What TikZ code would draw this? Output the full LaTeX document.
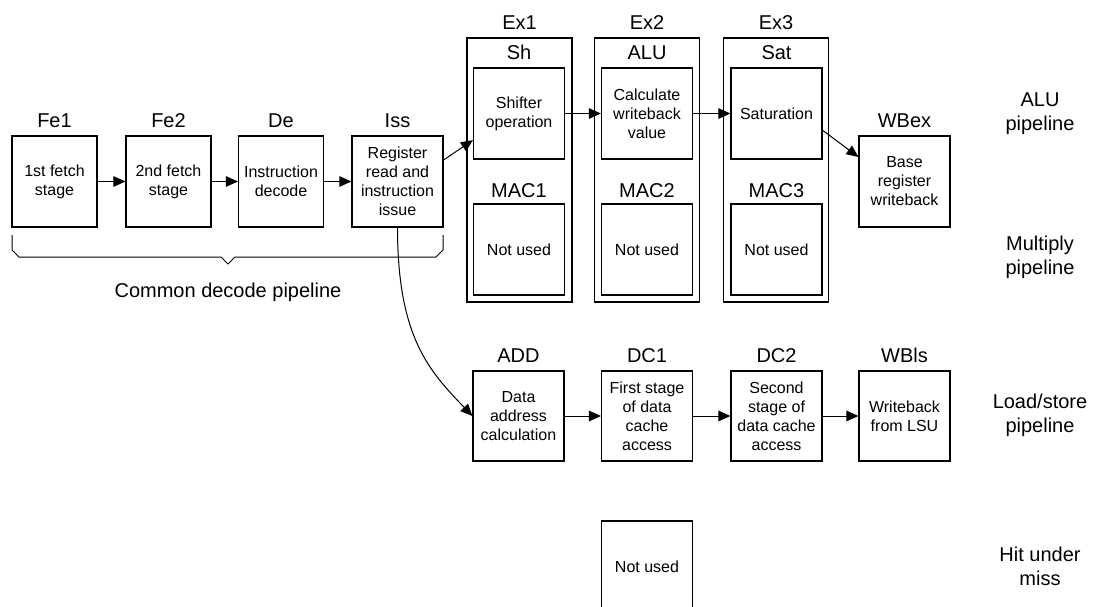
\documentclass[tikz,border=0pt]{standalone}
\usepackage{fontspec}
\setmainfont{Liberation Sans}
\usetikzlibrary{arrows.meta,positioning}
\tikzstyle{stage} = [draw=black, line width=1.2pt, inner sep=0pt, align=center,
font=\fontsize{16}{19}\selectfont, minimum width=91pt, minimum height=91pt]
\tikzstyle{fetch} = [stage, minimum width=85pt]
\tikzstyle{column} = [draw=black, line width=1.2pt, minimum width=105pt, minimum height=264pt]
\tikzstyle{tag} = [anchor=base, inner sep=0pt, font=\fontsize{20}{24}\selectfont]
\tikzstyle{side} = [align=center, inner sep=0pt, font=\fontsize{20}{24}\selectfont]
\tikzstyle{arrow} = [line width=1pt,-{Triangle[length=12pt,width=10.5pt]}]

\begin{document}
\begin{tikzpicture}[x=1pt, y=-1pt]
            \useasboundingbox (0,0) rectangle (1094,607);
            \clip (0,0) rectangle (1094,607);
            % common decode pipeline
            \node[fetch] (fe1) at (54.5,181.5) {1st fetch\\stage};
            \node[fetch] (fe2) at (168.5,181.5) {2nd fetch\\stage};
            \node[fetch] (de) at (281,181.5) {Instruction\\decode};
            \node[stage] (iss) at (397.5,181.5) {Register\\read and\\instruction\\issue};
            \node[tag] (fe1t) at (54.5,128) {Fe1};
            \node[tag] (fe2t) at (168.5,128) {Fe2};
            \node[tag] (det) at (281,128) {De};
            \node[tag] (isst) at (397.5,128) {Iss};
            \draw[arrow] (fe1) -- (fe2);
            \draw[arrow] (fe2) -- (de);
            \draw[arrow] (de) -- (iss);
            \draw[line width=1pt] (12,235) -- (12,250) -- (19,257) -- (221,257)
            -- (228,264) -- (235,257) -- (436,257) -- (443,250) -- (443,235);
            \node[tag] (common) at (228,297) {Common decode pipeline};
            % execute columns
            \node[column] (ex1) at (519.5,170) {};
            \node[column] (ex2) at (647,170) {};
            \node[column] (ex3) at (776,170) {};
            \node[tag] (ex1t) at (519.5,30) {Ex1};
            \node[tag] (ex2t) at (647,30) {Ex2};
            \node[tag] (ex3t) at (776,30) {Ex3};
            \node[tag] (sht) at (519,60) {Sh};
            \node[tag] (alut) at (647,60) {ALU};
            \node[tag] (satt) at (776.5,60) {Sat};
            \node[stage] (sh) at (519,113.5) {Shifter\\operation};
            \node[stage] (alu) at (647,113.5) {Calculate\\writeback\\value};
            \node[stage] (sat) at (776.5,113.5) {Saturation};
            \node[tag] (mac1t) at (519,197) {MAC1};
            \node[tag] (mac2t) at (647,197) {MAC2};
            \node[tag] (mac3t) at (776.5,197) {MAC3};
            \node[stage] (mac1) at (519,249.5) {Not used};
            \node[stage] (mac2) at (647,249.5) {Not used};
            \node[stage] (mac3) at (776.5,249.5) {Not used};
            \node[stage] (wbex) at (904.5,181.5) {Base\\register\\writeback};
            \node[tag] (wbext) at (904.5,128) {WBex};
            \draw[arrow] (iss.25) -- (sh.210);
            \draw[arrow] (sh) -- (alu);
            \draw[arrow] (alu) -- (sat);
            \draw[arrow] (sat.-20) -- (wbex.152);
            % load/store pipeline
            \node[stage, minimum height=90pt] (add) at (518.5,416) {Data\\address\\calculation};
            \node[stage, minimum height=90pt] (dc1) at (647,416) {First stage\\of data\\cache\\access};
            \node[stage, minimum height=90pt] (dc2) at (776.5,416) {Second\\stage of\\data cache\\access};
            \node[stage, minimum height=90pt] (wbls) at (904.5,416) {Writeback\\from LSU};
            \node[tag] (addt) at (518.5,362) {ADD};
            \node[tag] (dc1t) at (647,362) {DC1};
            \node[tag] (dc2t) at (776.5,362) {DC2};
            \node[tag] (wblst) at (904.5,362) {WBls};
            \draw[arrow] (add) -- (dc1);
            \draw[arrow] (dc1) -- (dc2);
            \draw[arrow] (dc2) -- (wbls);
            \draw[arrow] (iss.south) .. controls +(0,110) and +(-43,-45) .. (add.west);
            % hit under miss
            \node[stage] (hum) at (647,566.5) {Not used};
            % pipeline names
            \node[side] (alup) at (1040,114) {ALU\\pipeline};
            \node[side] (mulp) at (1040,257) {Multiply\\pipeline};
            \node[side] (lsp) at (1040,415) {Load/store\\pipeline};
            \node[side] (hump) at (1040,566.5) {Hit under\\miss};
        \end{tikzpicture}
\end{document}
